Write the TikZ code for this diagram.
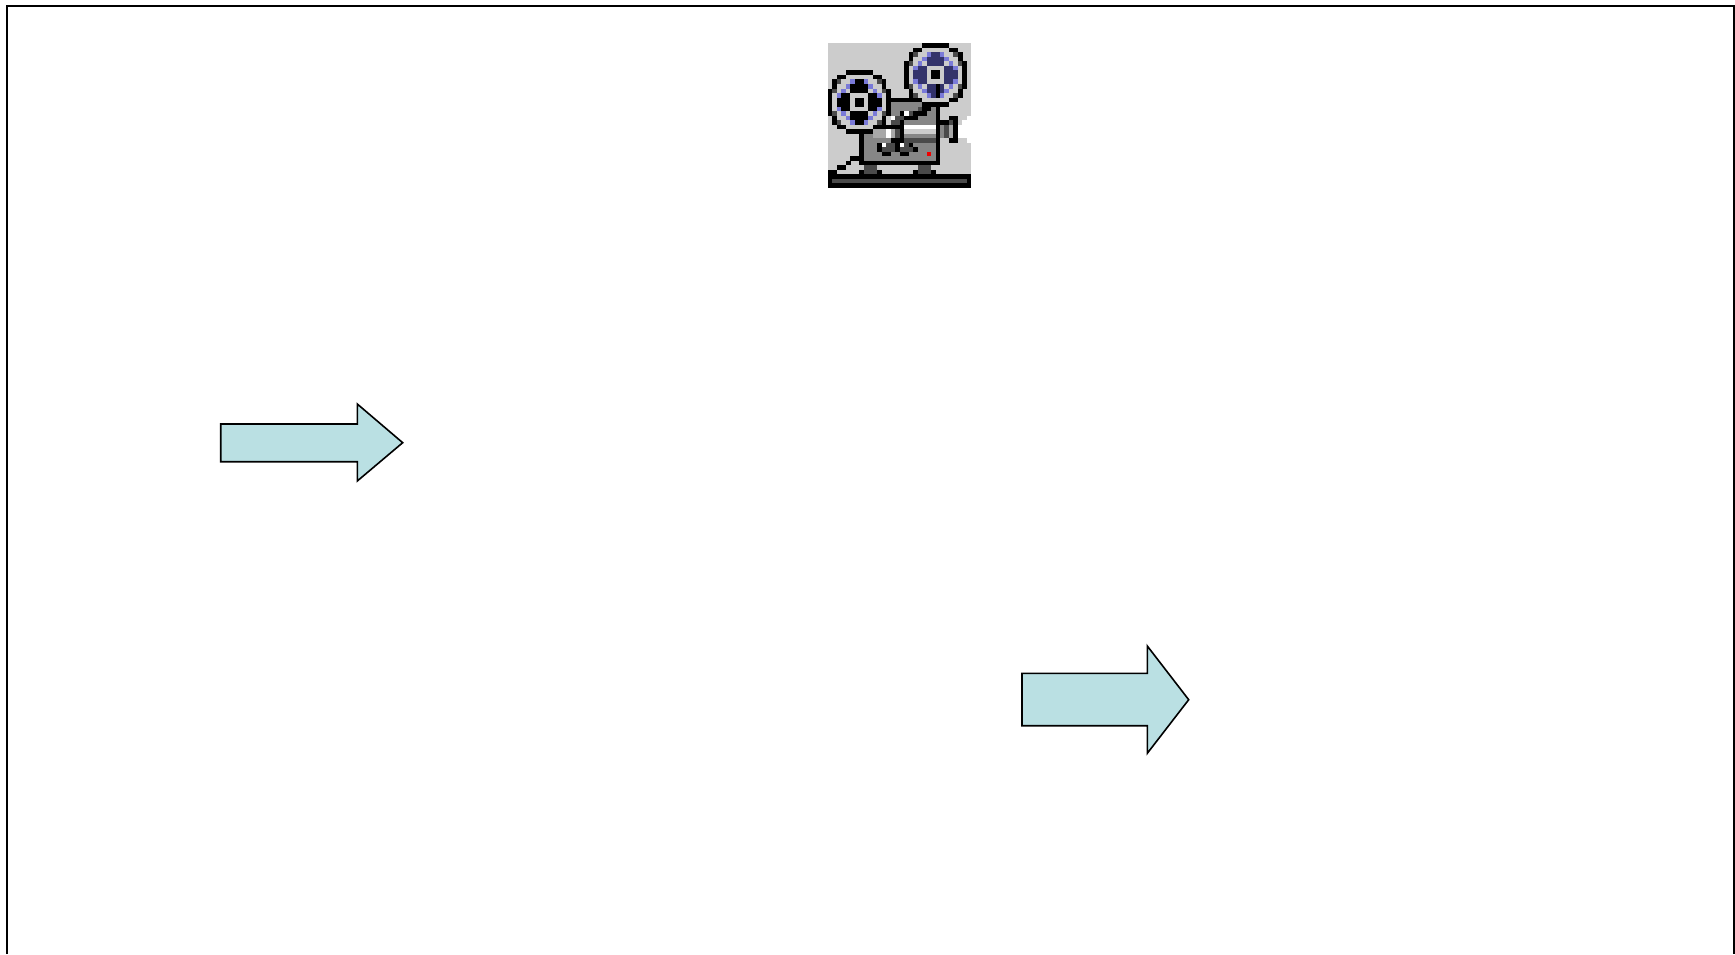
\documentclass[tikz,border=0pt]{standalone}
\definecolor{arrowfill}{HTML}{BAE0E3}
\definecolor{pxK}{HTML}{000000}
\definecolor{pxL}{HTML}{CCCCCC}
\definecolor{pxD}{HTML}{4A4A4A}
\definecolor{pxM}{HTML}{868686}
\definecolor{pxH}{HTML}{A8A8A8}
\definecolor{pxP}{HTML}{7A7AD8}
\definecolor{pxB}{HTML}{33336A}
\definecolor{pxW}{HTML}{FFFFFF}
\definecolor{pxR}{HTML}{F00000}
\newcount\pixc
\newcount\pixr
\def\pixrow#1{\ifx#1;\let\pixnext\relax\else
  \ifx#1.\else\fill[fill=px#1] ({828+4.48*\the\pixc},{43.3+4.52*\the\pixr}) rectangle +(4.6,4.6);\fi
  \advance\pixc by 1 \let\pixnext\pixrow\fi\pixnext}
\def\pixline#1{\pixc=0 \pixrow#1;\advance\pixr by 1 }
\tikzset{
  frameline/.style={draw=black,line width=1.7pt,line join=miter},
  blockarrow/.style={draw=black,line width=1.6pt,fill=arrowfill,line join=miter}
}
\begin{document}
\begin{tikzpicture}[x=1pt,y=-1pt]
\useasboundingbox (0,0) rectangle (1735,954);
\draw[frameline] (7,954) -- (7,6) -- (1734,6) -- (1734,954);
\draw[blockarrow] (220.7,424) -- (357.3,424) -- (357.3,404) -- (402.7,442.7) -- (357.3,481) -- (357.3,461.7) -- (220.7,461.7) -- cycle;
\draw[blockarrow] (1022,673.3) -- (1147.3,673.3) -- (1147.3,646) -- (1188.7,699.7) -- (1147.3,753.3) -- (1147.3,725.7) -- (1022,725.7) -- cycle;
\fill[pxL] (828,43.3) rectangle (971.4,188);
\pixr=0
\pixline{.....................KKKKKK.....}
\pixline{...................KKLLLLLLKK...}
\pixline{..................KDLLPBBPLLDK..}
\pixline{..................KLLPBBBBPLLK..}
\pixline{.................KDLPLBBBBLPLDK.}
\pixline{.................KLPBBLLLLBBPLK.}
\pixline{....KKKKKK.......KLBBBLKKLBBBLK.}
\pixline{..KKLLLLLLKK.....KLBBBLKKLBBBLK.}
\pixline{.KDLLPKKPLLDK....KLPBBLLLLBBPLK.}
\pixline{.KLLPKKKKPLLK....KDLPLBBKBLPLDK.}
\pixline{KDLPLKKKKLPLDK....KLLPBBKBPLLK..}
\pixline{KLPKKLLLLKKPLK....KDLLPBKPLLDK..}
\pixline{KLKKKLKKLKKKLKKKKKKKKLLLLLLKK...}
\pixline{KLKKKLKKLKKKLKMMMMMMMKKKKKK.....}
\pixline{KLPKKLLLLKKPLKMMMMMMDKKMK.......}
\pixline{KDLPLKKKKLPLDKMMKWDKKKMMK.......}
\pixline{.KLLPKKKKPLLK.WDDKKKMMMMK..KK..W}
\pixline{.KDLLPKKPLLDK.DDKMMMMMMMKKKDK.WW}
\pixline{..KKLLLLLLKKKKKKKWWWWWWWKMDHKWWW}
\pixline{....KKKKKKHHHWHDKLLLLLLLKMDHKWWW}
\pixline{.......KMMHHHWHDKMMMMMMMKMDHKWWW}
\pixline{.......KMMMMMMKKKDDDDDDDK..KK..W}
\pixline{.......KMMMKWDDKWDKMMMMMK.......}
\pixline{.......KMMMKDDDKDDDKMMMMK.......}
\pixline{.......KMMMMKKMMKKMMMMRMK.......}
\pixline{.....KKKMMMMMMMMMMMMMMMMK.......}
\pixline{....K..KKKKKKKKKKKKKKKKKK.......}
\pixline{..KK....DDD.........DDD.........}
\pixline{KK.....KDDDK.......KDDDK........}
\pixline{KKKKKKKKKKKKKKKKKKKKKKKKKKKKKKKK}
\pixline{KDDDDDDDDDDDDDDDDDDDDDDDDDDDDDDK}
\pixline{KKKKKKKKKKKKKKKKKKKKKKKKKKKKKKKK}
\end{tikzpicture}
\end{document}
